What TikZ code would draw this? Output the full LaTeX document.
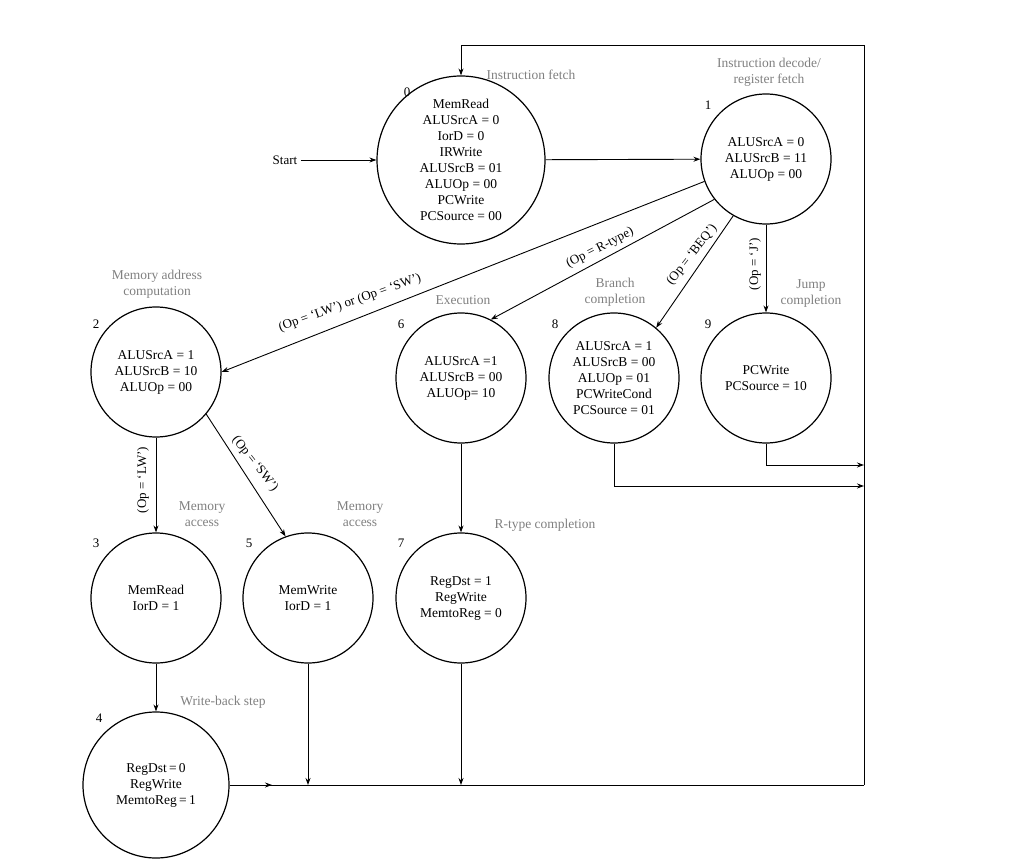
\documentclass[tikz,border=0pt]{standalone}
\usepackage{fontspec}
\setmainfont{Liberation Serif}
\usetikzlibrary{arrows.meta}
\begin{document}
\begin{tikzpicture}[x=1pt,y=-1pt,
  st/.style={circle,draw,line width=1.2pt,align=center,font=\fontsize{13.5}{16}\selectfont,inner sep=0pt},
  lbl/.style={text=gray,align=center,font=\fontsize{13.5}{16}\selectfont},
  num/.style={font=\fontsize{13}{15}\selectfont},
  el/.style={font=\fontsize{13}{15}\selectfont},
  ar/.style={-{Stealth[length=7pt,width=5pt]},line width=0.9pt},
  ln/.style={line width=0.9pt}]
\useasboundingbox (0,0) rectangle (1024,866);
\node[st,minimum size=168pt] (s0) at (461,160) {MemRead\\ALUSrcA = 0\\IorD = 0\\IRWrite\\ALUSrcB = 01\\ALUOp = 00\\PCWrite\\PCSource = 00};
\node[st,minimum size=130pt] (s1) at (766,159) {ALUSrcA = 0\\ALUSrcB = 11\\ALUOp = 00};
\node[st,minimum size=130pt] (s2) at (156,372) {ALUSrcA = 1\\ALUSrcB = 10\\ALUOp = 00};
\node[st,minimum size=130pt] (s6) at (461,378) {ALUSrcA =1\\ALUSrcB = 00\\ALUOp= 10};
\node[st,minimum size=130pt] (s8) at (614,378) {ALUSrcA = 1\\ALUSrcB = 00\\ALUOp = 01\\PCWriteCond\\PCSource = 01};
\node[st,minimum size=130pt] (s9) at (766,378) {PCWrite\\PCSource = 10};
\node[st,minimum size=130pt] (s3) at (156,598) {MemRead\\IorD = 1};
\node[st,minimum size=130pt] (s5) at (308,598) {MemWrite\\IorD = 1};
\node[st,minimum size=130pt] (s7) at (461,598) {RegDst = 1\\RegWrite\\MemtoReg = 0};
\node[st,minimum size=146pt] (s4) at (156,785) {RegDst\,=\,0\\RegWrite\\MemtoReg\,=\,1};
% numbers
\node[num] (n0) at (407,92) {0};
\node[num] (n1) at (708,105) {1};
\node[num] (n2) at (96,324) {2};
\node[num] (n6) at (401,324) {6};
\node[num] (n8) at (555,324) {8};
\node[num] (n9) at (708,324) {9};
\node[num] (n3) at (96,543) {3};
\node[num] (n5) at (249,543) {5};
\node[num] (n7) at (401,543) {7};
\node[num] (n4) at (99,718) {4};
% gray labels
\node[lbl] (l0) at (531,75) {Instruction fetch};
\node[lbl] (l1) at (769,72) {Instruction decode/\\register fetch};
\node[lbl] (l2) at (157,284) {Memory address\\computation};
\node[lbl] (l6) at (463,300) {Execution};
\node[lbl] (l8) at (615,292) {Branch\\completion};
\node[lbl] (l9) at (811,294) {Jump\\completion};
\node[lbl] (l3) at (202,514) {Memory\\access};
\node[lbl] (l5) at (360,514) {Memory\\access};
\node[lbl] (l7) at (545,525) {R-type completion};
\node[lbl] (l4) at (223,702) {Write-back step};
% start
\node[el] (start) at (285,160) {Start};
\draw[ar] (start) -- (s0);
\draw[ar] (s0) -- (s1);
\draw[ar] (s1.200) -- (s2.east);
\draw[ar] (s1.218) -- (s6.63);
\draw[ar] (s1.240) -- (s8.50);
\draw[ar] (s1) -- (s9);
\draw[ar] (s2) -- (s3);
\draw[ar] (s2.320) -- (s5.110);
\draw[ar] (s3) -- (s4);
\draw[ar] (s6) -- (s7);
% edge labels
\node[el,rotate=19.7] (e12) at (350,303) {(Op = `LW') or (Op = `SW')};
\node[el,rotate=27] (e16) at (600,248) {(Op = R-type)};
\node[el,rotate=52] (e18) at (692,255) {(Op = `BEQ')};
\node[el,rotate=90] (e19) at (755,264) {(Op = `J')};
\node[el,rotate=90] (e23) at (143,480) {(Op = `LW')};
\node[el,rotate=-52] (e25) at (255,464) {(Op = `SW')};
% return paths
\coordinate (tl) at (461,45);
\coordinate (tr) at (864,45);
\coordinate (br) at (864,785);
\coordinate (b5) at (308,785);
\coordinate (b7) at (461,785);
\coordinate (m9) at (766,465);
\coordinate (r9) at (864,465);
\coordinate (m8) at (614,486);
\coordinate (r8) at (864,486);
\coordinate (mid) at (272,785);
\draw[ln] (s4.east) -- (br);
\draw[ar] (s4.east) -- (mid);
\draw[ar] (s5) -- (b5);
\draw[ar] (s7) -- (b7);
\draw[ar] (s9) -- (m9) -- (r9);
\draw[ar] (s8) -- (m8) -- (r8);
\draw[ar] (br) -- (tr) -- (tl) -- (s0);
\end{tikzpicture}
\end{document}
